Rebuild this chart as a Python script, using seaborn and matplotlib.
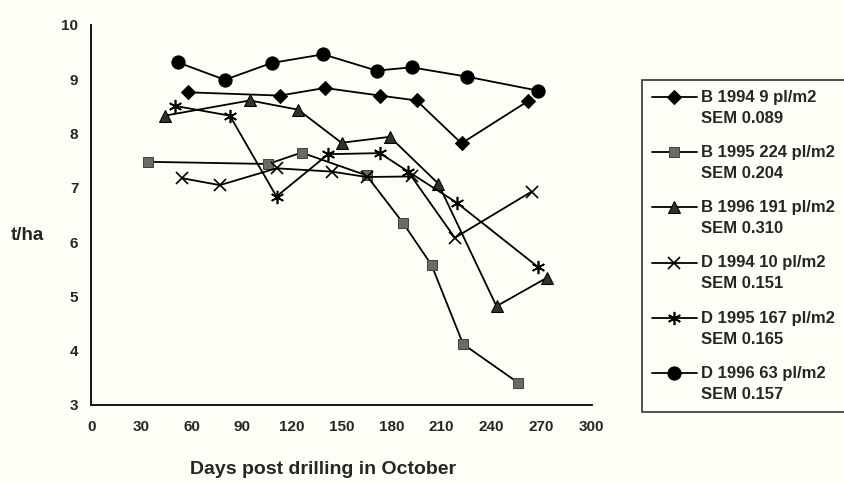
import matplotlib
matplotlib.use("Agg")
import matplotlib.pyplot as plt
import seaborn as sns
import pandas as pd

# Grain yield (t/ha) against sowing date, expressed as days after drilling in October
b94_days = [58, 113, 140, 173, 195, 222, 262]
b94_yield = [8.76, 8.70, 8.84, 8.70, 8.61, 7.82, 8.60]

b95_days = [34, 106, 126, 165, 187, 204, 223, 256]
b95_yield = [7.48, 7.44, 7.65, 7.23, 6.35, 5.58, 4.12, 3.41]

b96_days = [44, 95, 124, 150, 179, 208, 243, 273]
b96_yield = [8.33, 8.61, 8.44, 7.83, 7.94, 7.08, 4.82, 5.34]

d94_days = [54, 77, 111, 144, 165, 192, 218, 264]
d94_yield = [7.18, 7.05, 7.36, 7.30, 7.20, 7.21, 6.08, 6.93]

d95_days = [50, 83, 111, 142, 173, 190, 219, 268]
d95_yield = [8.51, 8.33, 6.84, 7.62, 7.64, 7.30, 6.73, 5.54]

d96_days = [52, 80, 108, 139, 171, 192, 225, 268]
d96_yield = [9.31, 8.99, 9.30, 9.46, 9.16, 9.22, 9.05, 8.79]

series_labels = [
    "B 1994 9 pl/m2\nSEM 0.089",
    "B 1995 224 pl/m2\nSEM 0.204",
    "B 1996 191 pl/m2\nSEM 0.310",
    "D 1994 10 pl/m2\nSEM 0.151",
    "D 1995 167 pl/m2\nSEM 0.165",
    "D 1996 63 pl/m2\nSEM 0.157",
]

x_ticks = [0, 30, 60, 90, 120, 150, 180, 210, 240, 270, 300]
y_ticks = [3, 4, 5, 6, 7, 8, 9, 10]

sns.set_style("white")
plt.rcParams["font.family"] = ["Liberation Sans", "DejaVu Sans"]
plt.rcParams["font.weight"] = "bold"

bg = "#fefef6"
fig = plt.figure(figsize=(8.45, 4.83), dpi=100, facecolor=bg)
ax = fig.add_axes([91.5 / 845, 78 / 483, 500 / 845, 380 / 483], facecolor=bg)

styles = [
    dict(marker="D", markersize=7, markerfacecolor="black", markeredgecolor="black"),
    dict(marker="s", markersize=7.5, markerfacecolor="#6a6a6a", markeredgecolor="#444444"),
    dict(marker="^", markersize=8, markerfacecolor="#2b352b", markeredgecolor="black"),
    dict(marker="x", markersize=8.5, markeredgewidth=1.2, markeredgecolor="black"),
    dict(marker=(6, 2, 0), markersize=9.5, markeredgewidth=1.2, markeredgecolor="black"),
    dict(marker="o", markersize=9.5, markerfacecolor="black", markeredgecolor="black"),
]

all_days = [b94_days, b95_days, b96_days, d94_days, d95_days, d96_days]
all_yield = [b94_yield, b95_yield, b96_yield, d94_yield, d95_yield, d96_yield]

for days, yld, label, st in zip(all_days, all_yield, series_labels, styles):
    df = pd.DataFrame({"days": days, "yield": yld})
    sns.lineplot(data=df, x="days", y="yield", ax=ax, color="black",
                 linewidth=1.3, sort=False, estimator=None, label=label, **st)

ax.set_xlim(0, 300)
ax.set_ylim(3, 10)
ax.set_xticks(x_ticks)
ax.set_yticks(y_ticks)
ax.set_xticklabels([str(t) for t in x_ticks], fontsize=11, fontweight="bold")
ax.set_yticklabels([str(t) for t in y_ticks], fontsize=11, fontweight="bold")
ax.tick_params(axis="both", direction="out", length=4.5, width=1.2, color="black")
ax.tick_params(axis="x", pad=6)
ax.tick_params(axis="y", pad=5)
ax.set_xlabel("")
ax.set_ylabel("")
for side in ["top", "right"]:
    ax.spines[side].set_visible(False)
for side in ["left", "bottom"]:
    ax.spines[side].set_color("black")
    ax.spines[side].set_linewidth(1.3)

fig.text(323 / 845, 1 - 470 / 483, "Days post drilling in October",
         ha="center", va="center", fontsize=14, fontweight="bold")
fig.text(11 / 845, 1 - 236 / 483, "t/ha", ha="left", va="center",
         fontsize=13.5, fontweight="bold")

ax.get_legend().remove()
handles, labels = ax.get_legend_handles_labels()
leg = fig.legend(handles, labels, loc="upper left",
                 bbox_to_anchor=(642 / 845, 1 - 80 / 483, 215 / 845, 0),
                 mode="expand", frameon=True, fancybox=False,
                 prop={"size": 12, "weight": "bold"},
                 handlelength=2.7, handleheight=1.2, handletextpad=0.25,
                 borderpad=0.6, labelspacing=1.15, borderaxespad=0)
for t in leg.get_texts():
    t.set_linespacing(1.5)
# keep each legend key level with the first line of its label
for column in leg._legend_handle_box.get_children():
    for row in column.get_children():
        row.align = "top"
leg.get_frame().set_edgecolor("black")
leg.get_frame().set_linewidth(1.2)
leg.get_frame().set_facecolor(bg)

fig.savefig("out.png", dpi=100, facecolor=bg)
